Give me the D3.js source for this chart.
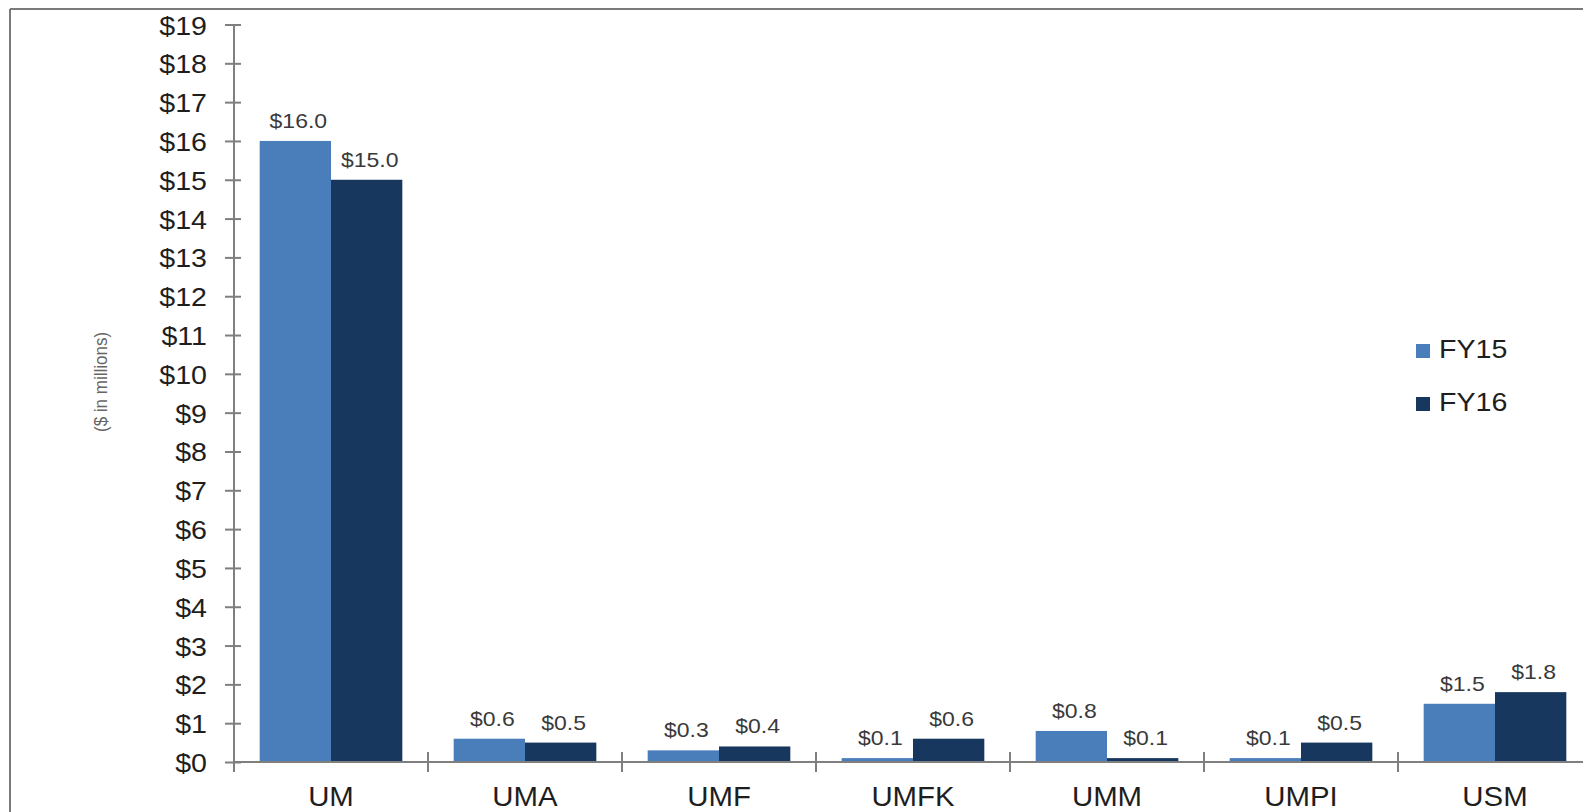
<!DOCTYPE html>
<html>
<head>
<meta charset="utf-8">
<script src="https://cdn.jsdelivr.net/npm/d3@7"></script>
<style>
  html, body { margin: 0; padding: 0; background: #fff; }
  svg { display: block; }
  text { font-family: "Liberation Sans", Arial, sans-serif; }
</style>
</head>
<body>
<svg id="chart" width="1583" height="812"></svg>
<script>
// Campus budget totals, FY15 vs FY16 ($ in millions)
const categories = ["UM", "UMA", "UMF", "UMFK", "UMM", "UMPI", "USM"];
const seriesNames = ["FY15", "FY16"];
const fy15 = [16.0, 0.6, 0.3, 0.1, 0.8, 0.1, 1.5];
const fy16 = [15.0, 0.5, 0.4, 0.6, 0.1, 0.5, 1.8];
const yTicks = d3.range(0, 20);
const yTitle = "($ in millions)";

const colors = { FY15: "#4a7ebb", FY16: "#17375e" };

const svg = d3.select("#chart");
const W = 1583, H = 812;

// frame
svg.append("line").attr("x1", 10).attr("x2", W).attr("y1", 9).attr("y2", 9)
  .attr("stroke", "#7a7a7a").attr("stroke-width", 2);
svg.append("line").attr("x1", 10).attr("x2", 10).attr("y1", 9).attr("y2", H)
  .attr("stroke", "#7a7a7a").attr("stroke-width", 2);

const x0 = d3.scaleBand().domain(categories).range([234, 1592]).padding(0);
const x1 = d3.scaleBand().domain(seriesNames).range([0, x0.bandwidth()])
  .paddingInner(0).paddingOuter(0.36);
const y = d3.scaleLinear().domain([0, 19]).range([762, 24.5]);

const rows = categories.map((c, i) => ({ cat: c, vals: [
  { s: "FY15", v: fy15[i] }, { s: "FY16", v: fy16[i] } ] }));

// bars
const groups = svg.append("g").selectAll("g").data(rows).join("g")
  .attr("transform", d => `translate(${x0(d.cat)},0)`);
groups.selectAll("rect").data(d => d.vals).join("rect")
  .attr("x", d => x1(d.s))
  .attr("width", x1.bandwidth())
  .attr("y", d => y(d.v))
  .attr("height", d => y(0) - y(d.v))
  .attr("fill", d => colors[d.s]);

// value labels
groups.selectAll("text.val").data(d => d.vals).join("text")
  .attr("class", "val")
  .attr("transform", d =>
    `translate(${x1(d.s) + x1.bandwidth() / 2 + 3},${y(d.v) - 13}) scale(1.15,1)`)
  .attr("text-anchor", "middle")
  .attr("font-size", 20)
  .attr("fill", "#3a3a3a")
  .text(d => "$" + d.v.toFixed(1));

// y axis
const yAxis = d3.axisLeft(y).tickValues(yTicks).tickSize(0).tickPadding(0)
  .tickFormat(d => "$" + d);
const gy = svg.append("g").attr("transform", "translate(234,0)").call(yAxis);
gy.select(".domain").remove();
gy.append("line").attr("x1", 0).attr("x2", 0).attr("y1", y(19)).attr("y2", 772)
  .attr("stroke", "#7f7f7f").attr("stroke-width", 2);
gy.selectAll(".tick line").remove();
gy.selectAll(".tick").append("line")
  .attr("x1", -9).attr("x2", 7).attr("y1", 0).attr("y2", 0)
  .attr("stroke", "#7f7f7f").attr("stroke-width", 2);
gy.selectAll(".tick text")
  .attr("x", null).attr("dy", null)
  .attr("text-anchor", "end")
  .attr("font-size", 26)
  .attr("fill", "#1e1e1e")
  .attr("transform", "translate(-27,9.5) scale(1.1,1)");

// x axis
const xAxis = d3.axisBottom(x0).tickSize(0).tickPadding(0);
const gx = svg.append("g").attr("transform", `translate(0,${y(0)})`).call(xAxis);
gx.select(".domain").remove();
gx.append("line").attr("x1", 234).attr("x2", W).attr("y1", 0).attr("y2", 0)
  .attr("stroke", "#7f7f7f").attr("stroke-width", 2);
gx.selectAll(".tick line").remove();
gx.selectAll(".tick text")
  .attr("y", null).attr("dy", null)
  .attr("text-anchor", "middle")
  .attr("font-size", 28)
  .attr("fill", "#1e1e1e")
  .attr("transform", "translate(0,44) scale(1.05,1)");
// category separators
gx.selectAll("line.sep").data(categories.slice(1)).join("line")
  .attr("class", "sep")
  .attr("x1", d => x0(d)).attr("x2", d => x0(d))
  .attr("y1", -10).attr("y2", 10)
  .attr("stroke", "#7f7f7f").attr("stroke-width", 2);

// y title
svg.append("text")
  .attr("transform", "translate(107,382) scale(1.1,1) rotate(-90)")
  .attr("text-anchor", "middle")
  .attr("font-size", 17)
  .attr("fill", "#666")
  .text(yTitle);

// legend
const legend = svg.append("g").selectAll("g").data(seriesNames).join("g")
  .attr("transform", (d, i) => `translate(1416,${344 + i * 53})`);
legend.append("rect").attr("width", 14).attr("height", 14)
  .attr("fill", d => colors[d]);
legend.append("text")
  .attr("transform", "translate(23,14) scale(1.1,1)")
  .attr("font-size", 26)
  .attr("fill", "#1e1e1e")
  .text(d => d);
</script>
</body>
</html>
